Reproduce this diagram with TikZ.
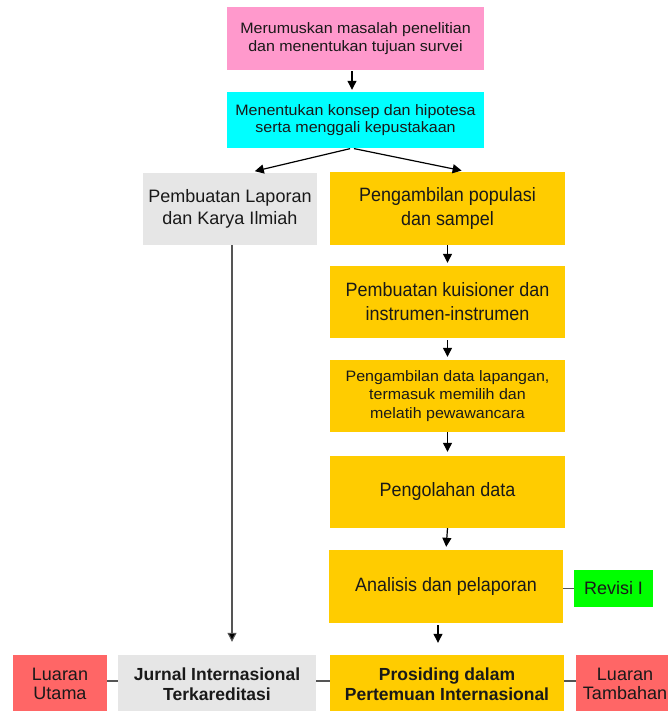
\documentclass[tikz,border=0pt]{standalone}
\usepackage{fontspec}
\setmainfont{Liberation Sans}
\newfontfamily\fwide{Liberation Sans}[FakeStretch=1.06]
\newfontfamily\fnarrow{Liberation Sans}[FakeStretch=0.93]
\usetikzlibrary{arrows.meta,calc}
\definecolor{cpink}{HTML}{FF99CC}
\definecolor{ccyan}{HTML}{00FFFF}
\definecolor{cgrey}{HTML}{E6E6E6}
\definecolor{cyel}{HTML}{FFCC00}
\definecolor{cgreen}{HTML}{00FF00}
\definecolor{cred}{HTML}{FF6666}
\definecolor{cline}{HTML}{555555}
\tikzset{
  box/.style={rectangle, inner sep=0pt, align=center, text=black!90},
  fstop/.style={font=\fwide\fontsize{15.1}{17.5}\selectfont},
  fs15/.style={font=\fwide\fontsize{15.1}{18.5}\selectfont},
  fsy/.style={font=\fnarrow\fontsize{19.3}{24}\selectfont},
  fs18/.style={font=\fontsize{18}{22}\selectfont},
  fsl/.style={font=\fontsize{18}{19.5}\selectfont},
  fsb/.style={font=\fontsize{17.5}{19.5}\selectfont\bfseries},
  arr/.style={draw=black, line width=1.2pt, -{Triangle[width=9pt,length=9pt]}},
  gline/.style={draw=cline, line width=1.1pt},
}
\begin{document}
\begin{tikzpicture}[x=1pt,y=-1pt]
\useasboundingbox (0,0) rectangle (667,711);
\node[box, fill=cpink, minimum width=257, minimum height=63, fstop] (pink) at (355.5,38.5) {Merumuskan masalah penelitian\\dan menentukan tujuan survei};
\node[box, fill=ccyan, minimum width=257, minimum height=56, fstop] (cyan) at (355.5,120) {Menentukan konsep dan hipotesa\\serta menggali kepustakaan};
\node[box, fill=cgrey, minimum width=174, minimum height=72, fs18] (lap) at (230,209) {Pembuatan Laporan\\dan Karya Ilmiah};
\node[box, fill=cyel, minimum width=235, minimum height=73, fsy] (y1) at (447.5,208.5) {Pengambilan populasi\\dan sampel};
\node[box, fill=cyel, minimum width=235, minimum height=72, fsy] (y2) at (447.5,302) {Pembuatan kuisioner dan\\instrumen-instrumen};
\node[box, fill=cyel, minimum width=235, minimum height=72, fs15] (y3) at (447.5,396) {Pengambilan data lapangan,\\termasuk memilih dan\\melatih pewawancara};
\node[box, fill=cyel, minimum width=235, minimum height=72, fsy] (y4) at (447.5,492) {Pengolahan data};
\node[box, fill=cyel, minimum width=234, minimum height=73, fsy] (y5) at (446,586.5) {Analisis dan pelaporan};
\node[box, fill=cgreen, minimum width=79, minimum height=37, fs18] (rev) at (613.5,588.5) {Revisi I};
\node[box, fill=cred, minimum width=94, minimum height=58, fsl] (lu) at (60,684) {Luaran\\Utama};
\node[box, fill=cgrey, minimum width=198, minimum height=58, fsb] (jur) at (217,684) {Jurnal Internasional\\Terkareditasi};
\node[box, fill=cyel, minimum width=234, minimum height=58, fsb] (pros) at (447,684) {Prosiding dalam\\Pertemuan Internasional};
\node[box, fill=cred, minimum width=98, minimum height=58, fsl] (lt) at (625,684) {Luaran\\Tambahan};

\draw[arr, shorten <=1pt, shorten >=2pt] ([xshift=-3.5pt]pink.south) -- ([xshift=-3.5pt]cyan.north);
\draw[arr, shorten <=2pt, shorten >=7pt] ([xshift=-3.5pt]cyan.south) -- ([xshift=18pt]lap.north);
\draw[arr, shorten <=2pt, shorten >=6pt] ([xshift=-3.5pt]cyan.south) -- ([xshift=20pt]y1.north);
\draw[arr, shorten >=3pt] (y1.south) -- (y2.north);
\draw[arr, shorten <=2pt, shorten >=3pt] (y2.south) -- (y3.north);
\draw[arr, shorten >=4pt] (y3.south) -- (y4.north);
\draw[arr, shorten >=3pt] (y4.south) -- (y5.north);
\draw[arr, shorten <=2pt, shorten >=12pt] ([xshift=-8pt]y5.south) -- ([xshift=-8pt]y5.south |- pros.north);
\draw[gline, -{Triangle[width=9pt,length=9pt,fill=black]}, shorten >=13pt] ([xshift=2pt]lap.south) -- ([xshift=2pt]lap.south |- jur.north);
\draw[gline] (y5.east |- rev.west) -- (rev.west);
\draw[gline] ([yshift=3pt]lu.east) -- ([yshift=3pt]jur.west);
\draw[gline] ([yshift=3pt]jur.east) -- ([yshift=3pt]pros.west);
\draw[gline] ([yshift=3pt]pros.east) -- ([yshift=3pt]lt.west);
\end{tikzpicture}
\end{document}
